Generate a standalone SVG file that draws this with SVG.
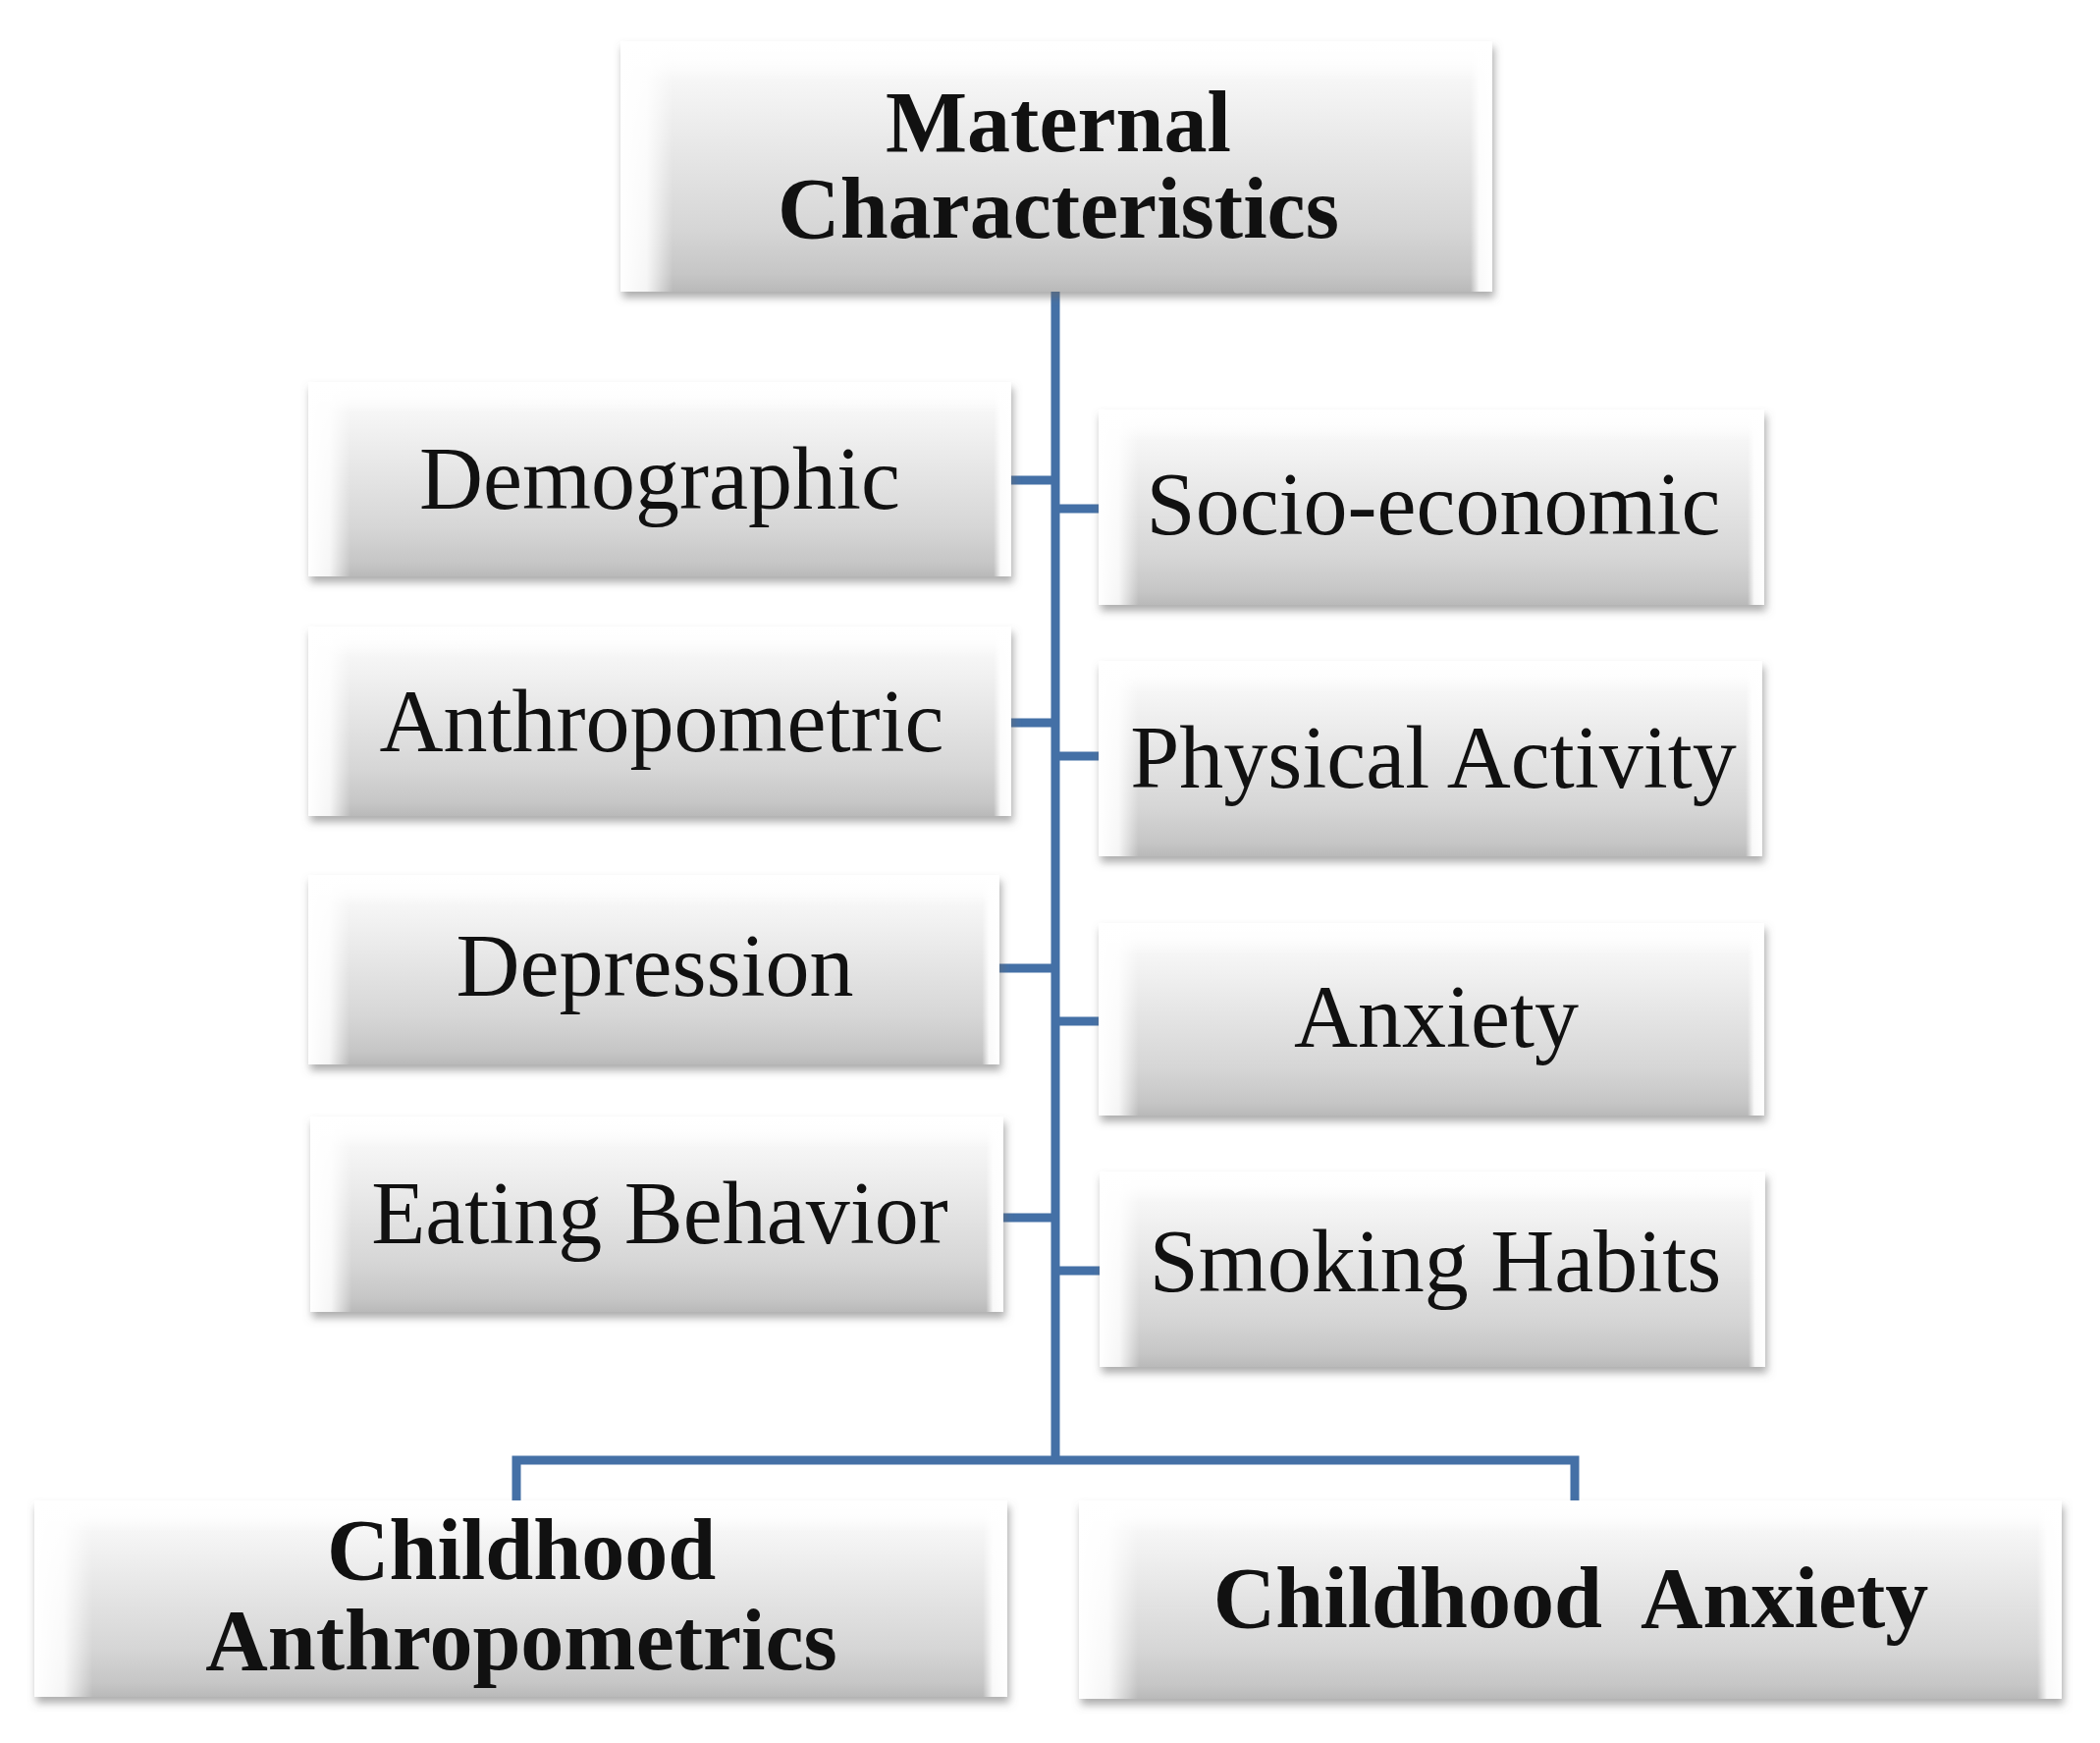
<svg xmlns="http://www.w3.org/2000/svg" width="2139" height="1775" viewBox="0 0 2139 1775">
<style>
.lbl{font-family:"Liberation Serif","Times New Roman",serif;font-size:90px;fill:#111;text-anchor:middle}
.bold{font-weight:bold;font-size:88px}
.base{fill:url(#gV);filter:url(#sh)}
.bevH{fill:url(#gH)}
.bevT{fill:url(#gT)}
.conn{stroke:#4470a6;stroke-width:9;fill:none;stroke-linecap:butt}
</style>
<defs>
<linearGradient id="gV" x1="0" y1="0" x2="0" y2="1">
<stop offset="0" stop-color="#fefefe"/>
<stop offset="0.25" stop-color="#f1f1f1"/>
<stop offset="0.75" stop-color="#d6d6d6"/>
<stop offset="0.93" stop-color="#c6c6c6"/>
<stop offset="1" stop-color="#b9b9b9"/>
</linearGradient>
<linearGradient id="gH" x1="0" y1="0" x2="1" y2="0">
<stop offset="0" stop-color="#ffffff" stop-opacity="1"/>
<stop offset="0.03" stop-color="#ffffff" stop-opacity="0.85"/>
<stop offset="0.06" stop-color="#ffffff" stop-opacity="0"/>
<stop offset="0.975" stop-color="#ffffff" stop-opacity="0"/>
<stop offset="0.985" stop-color="#ffffff" stop-opacity="0.9"/>
<stop offset="1" stop-color="#ffffff" stop-opacity="1"/>
</linearGradient>
<linearGradient id="gT" x1="0" y1="0" x2="0" y2="1">
<stop offset="0" stop-color="#ffffff" stop-opacity="1"/>
<stop offset="0.08" stop-color="#ffffff" stop-opacity="0.7"/>
<stop offset="0.16" stop-color="#ffffff" stop-opacity="0"/>
<stop offset="1" stop-color="#ffffff" stop-opacity="0"/>
</linearGradient>
<filter id="sh" x="-5%" y="-10%" width="110%" height="125%">
<feDropShadow dx="2" dy="6" stdDeviation="4" flood-color="#666" flood-opacity="0.55"/>
</filter>
</defs>
<rect width="2139" height="1775" fill="#ffffff"/>

<g id="connectors">
<line class="conn" x1="1075" y1="294" x2="1075" y2="1491"/>
<line class="conn" x1="1030" y1="489" x2="1075" y2="489"/>
<line class="conn" x1="1030" y1="736" x2="1075" y2="736"/>
<line class="conn" x1="1018" y1="986" x2="1075" y2="986"/>
<line class="conn" x1="1022" y1="1240" x2="1075" y2="1240"/>
<line class="conn" x1="1075" y1="518" x2="1120" y2="518"/>
<line class="conn" x1="1075" y1="770" x2="1120" y2="770"/>
<line class="conn" x1="1075" y1="1040" x2="1120" y2="1040"/>
<line class="conn" x1="1075" y1="1294" x2="1121" y2="1294"/>
<polyline class="conn" points="526,1530 526,1487 1604,1487 1604,1530"/>
</g>

<g id="maternal">
<rect class="base" x="632" y="42" width="888" height="255"/>
<rect class="bevH" x="632" y="42" width="888" height="255"/>
<rect class="bevT" x="632" y="42" width="888" height="255"/>
<text class="lbl bold" x="1078" y="154">Maternal</text>
<text class="lbl bold" x="1078" y="242">Characteristics</text>
</g>

<g id="demographic">
<rect class="base" x="314" y="389" width="716" height="198"/>
<rect class="bevH" x="314" y="389" width="716" height="198"/>
<rect class="bevT" x="314" y="389" width="716" height="198"/>
<text class="lbl" x="672" y="518">Demographic</text>
</g>

<g id="anthropometric">
<rect class="base" x="314" y="638" width="716" height="193"/>
<rect class="bevH" x="314" y="638" width="716" height="193"/>
<rect class="bevT" x="314" y="638" width="716" height="193"/>
<text class="lbl" x="674" y="765">Anthropometric</text>
</g>

<g id="depression">
<rect class="base" x="314" y="891" width="704" height="193"/>
<rect class="bevH" x="314" y="891" width="704" height="193"/>
<rect class="bevT" x="314" y="891" width="704" height="193"/>
<text class="lbl" x="667" y="1014">Depression</text>
</g>

<g id="eating">
<rect class="base" x="316" y="1137" width="706" height="199"/>
<rect class="bevH" x="316" y="1137" width="706" height="199"/>
<rect class="bevT" x="316" y="1137" width="706" height="199"/>
<text class="lbl" x="672" y="1266">Eating Behavior</text>
</g>

<g id="socio">
<rect class="base" x="1119" y="417" width="678" height="199"/>
<rect class="bevH" x="1119" y="417" width="678" height="199"/>
<rect class="bevT" x="1119" y="417" width="678" height="199"/>
<text class="lbl" x="1460" y="544">Socio-economic</text>
</g>

<g id="physical">
<rect class="base" x="1119" y="673" width="676" height="199"/>
<rect class="bevH" x="1119" y="673" width="676" height="199"/>
<rect class="bevT" x="1119" y="673" width="676" height="199"/>
<text class="lbl" x="1460" y="802">Physical Activity</text>
</g>

<g id="anxiety">
<rect class="base" x="1119" y="940" width="678" height="196"/>
<rect class="bevH" x="1119" y="940" width="678" height="196"/>
<rect class="bevT" x="1119" y="940" width="678" height="196"/>
<text class="lbl" x="1463" y="1066">Anxiety</text>
</g>

<g id="smoking">
<rect class="base" x="1120" y="1193" width="678" height="199"/>
<rect class="bevH" x="1120" y="1193" width="678" height="199"/>
<rect class="bevT" x="1120" y="1193" width="678" height="199"/>
<text class="lbl" x="1462" y="1315">Smoking Habits</text>
</g>

<g id="child-anthropometrics">
<rect class="base" x="35" y="1528" width="991" height="200"/>
<rect class="bevH" x="35" y="1528" width="991" height="200"/>
<rect class="bevT" x="35" y="1528" width="991" height="200"/>
<text class="lbl bold" x="531" y="1608">Childhood</text>
<text class="lbl bold" x="531" y="1700">Anthropometrics</text>
</g>

<g id="child-anxiety">
<rect class="base" x="1099" y="1528" width="1001" height="202"/>
<rect class="bevH" x="1099" y="1528" width="1001" height="202"/>
<rect class="bevT" x="1099" y="1528" width="1001" height="202"/>
<text class="lbl bold" x="1600" y="1657" xml:space="preserve" style="white-space:pre">Childhood  Anxiety</text>
</g>
</svg>
